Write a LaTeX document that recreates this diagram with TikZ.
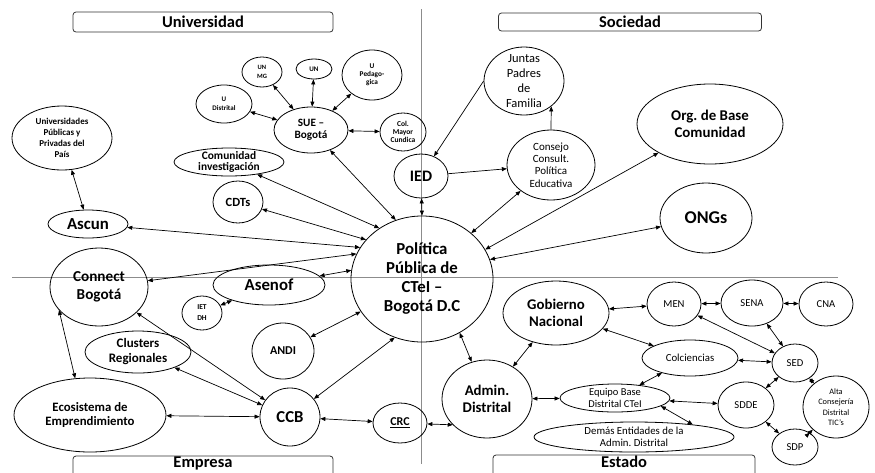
\documentclass[tikz,border=0pt]{standalone}
\usepackage{fontspec}
\setmainfont{Carlito}
\usetikzlibrary{shapes.geometric,arrows.meta}
\newcommand\fsz[2]{\fontsize{#1}{#2}\selectfont}
\begin{document}
\frenchspacing
\begin{tikzpicture}[x=1pt,y=-1pt,
 el/.style={ellipse,draw,line width=0.8pt,inner sep=0pt},
 lb/.style={align=center,inner sep=0pt},
 arr/.style={<->,line width=0.7pt,>={Triangle[length=5pt,width=4pt]}},
 arrf/.style={->,line width=0.7pt,>={Triangle[length=5pt,width=4pt]}},
 tbox/.style={draw=black!80,rounded corners=3pt,line width=0.8pt,inner sep=0pt,font=\bfseries\fsz{16.5}{18}},
 tlab/.style={inner sep=0pt,font=\bfseries\fsz{16.5}{18}},
 axisline/.style={draw=black!45,line width=1pt}]
\useasboundingbox (0,0) rectangle (875,472);
\clip (0,0) rectangle (875,472);
\draw[axisline] (421,9) -- (421,464);
\draw[axisline] (12,277) -- (838,277);
% titles
\node[tbox,minimum width=260,minimum height=20] (tu) at (203,22) {Universidad};
\node[tbox,minimum width=263,minimum height=18] (ts) at (630,22) {Sociedad};
\node[tbox,minimum width=260,minimum height=30,label={[tlab,yshift=8pt]center:Empresa}] (te) at (203,471) {};
\node[tbox,minimum width=262,minimum height=30,label={[tlab,yshift=8pt]center:Estado}] (tes) at (624,470) {};
% Universidad
\node[el,minimum width=100,minimum height=64,label={[lb,font=\bfseries\fsz{9}{11}]center:Universidades\\Públicas y\\Privadas del\\País}] (upp) at (62,138) {};
\node[el,minimum width=80,minimum height=28,label={[lb,font=\bfseries\fsz{16.8}{18}]center:Ascun}] (asc) at (88,224) {};
\node[el,minimum width=40,minimum height=30,label={[lb,font=\bfseries\fsz{6.5}{8.3}]center:UN\\MG}] (unmg) at (262,72) {};
\node[el,minimum width=56,minimum height=38,label={[lb,font=\bfseries\fsz{7}{9.3}]center:U\\Distrital}] (ud) at (224,104) {};
\node[el,minimum width=36,minimum height=20,label={[lb,font=\bfseries\fsz{7}{8}]center:UN}] (un) at (314,69) {};
\node[el,minimum width=60,minimum height=50,label={[lb,font=\bfseries\fsz{7.3}{8}]center:U\\Pedago-\\gica}] (upe) at (372,75) {};
\node[el,minimum width=74,minimum height=46,label={[lb,font=\bfseries\fsz{11.2}{11.7}]center:SUE –\\Bogotá}] (sue) at (311,130) {};
\node[el,minimum width=46,minimum height=38,label={[lb,font=\bfseries\fsz{7.5}{8.3}]center:Col.\\Mayor\\Cundica}] (col) at (403,132) {};
\node[el,minimum width=110,minimum height=28,label={[lb,font=\bfseries\fsz{11.4}{11.8}]center:Comunidad\\investigación}] (ci) at (229,162) {};
\node[el,minimum width=50,minimum height=42,label={[lb,font=\bfseries\fsz{12.5}{14}]center:CDTs}] (cdt) at (238,202) {};
% Sociedad
\node[el,minimum width=54,minimum height=44,label={[lb,font=\bfseries\fsz{16}{18}]center:IED}] (ied) at (421,176) {};
\node[el,minimum width=80,minimum height=68,label={[lb,font=\fsz{12.5}{14.7}]center:Juntas\\Padres\\de\\Familia}] (jun) at (524,81) {};
\node[el,minimum width=88,minimum height=70,label={[lb,font=\fsz{11}{12.4}]center:Consejo\\Consult.\\Política\\Educativa}] (cons) at (551,165) {};
\node[el,minimum width=146,minimum height=80,label={[lb,font=\bfseries\fsz{14.9}{16.7}]center:Org. de Base\\Comunidad}] (org) at (710,124) {};
\node[el,minimum width=92,minimum height=70,label={[lb,font=\bfseries\fsz{18}{20}]center:ONGs}] (ong) at (706,218) {};
% centre
\node[el,minimum width=142,minimum height=126,label={[lb,font=\bfseries\fsz{16.8}{19}]center:Política\\Pública de\\CTeI –\\Bogotá D.C}] (pol) at (422,279) {};
% Empresa
\node[el,minimum width=98,minimum height=78,label={[lb,font=\bfseries\fsz{15.2}{17.7}]center:Connect\\Bogotá}] (con) at (99,287) {};
\node[el,minimum width=112,minimum height=40,label={[lb,font=\bfseries\fsz{16.8}{18}]center:Asenof}] (ase) at (269,285) {};
\node[el,minimum width=40,minimum height=34,label={[lb,font=\bfseries\fsz{7.5}{11}]center:IET\\DH}] (iet) at (202,313) {};
\node[el,minimum width=62,minimum height=56,label={[lb,font=\bfseries\fsz{12}{14}]center:ANDI}] (andi) at (283,351) {};
\node[el,minimum width=106,minimum height=42,label={[lb,font=\bfseries\fsz{13}{15}]center:Clusters\\Regionales}] (clu) at (138,352) {};
\node[el,minimum width=152,minimum height=74,label={[lb,font=\bfseries\fsz{12.8}{14.3}]center:Ecosistema de\\Emprendimiento}] (eco) at (90,415) {};
\node[el,minimum width=60,minimum height=58,label={[lb,font=\bfseries\fsz{16.7}{18}]center:CCB}] (ccb) at (290,417) {};
\node[el,minimum width=54,minimum height=40,label={[lb,font=\bfseries\fsz{12}{14}]center:\underline{CRC}}] (crc) at (400,423) {};
% Estado
\node[el,minimum width=90,minimum height=78,label={[lb,font=\bfseries\fsz{14.8}{16.5}]center:Admin.\\Distrital}] (adm) at (487,399) {};
\node[el,minimum width=106,minimum height=64,label={[lb,font=\bfseries\fsz{14.8}{16.7}]center:Gobierno\\Nacional}] (gob) at (556,313) {};
\node[el,minimum width=54,minimum height=44,label={[lb,font=\fsz{10.6}{12}]center:MEN}] (men) at (674,304) {};
\node[el,minimum width=62,minimum height=46,label={[lb,font=\fsz{10.6}{12}]center:SENA}] (sena) at (752,303) {};
\node[el,minimum width=54,minimum height=44,label={[lb,font=\fsz{10.6}{12}]center:CNA}] (cna) at (826,304) {};
\node[el,minimum width=96,minimum height=36,label={[lb,font=\fsz{10.8}{12}]center:Colciencias}] (colc) at (690,358) {};
\node[el,minimum width=46,minimum height=38,label={[lb,font=\fsz{10.6}{12}]center:SED}] (sed) at (795,363) {};
\node[el,minimum width=110,minimum height=28,label={[lb,font=\fsz{10.5}{11.7}]center:Equipo Base\\Distrital CTeI}] (eq) at (615,398) {};
\node[el,minimum width=56,minimum height=46,label={[lb,font=\fsz{10.6}{12}]center:SDDE}] (sdde) at (746,405) {};
\node[el,minimum width=66,minimum height=62,label={[lb,font=\fsz{8.3}{10.3}]center:Alta\\Consejería\\Distrital\\TIC’s}] (alta) at (836,407) {};
\node[el,minimum width=46,minimum height=36,label={[lb,font=\fsz{10.6}{12}]center:SDP}] (sdp) at (795,447) {};
\node[el,minimum width=200,minimum height=30,label={[lb,font=\fsz{10.8}{11.7}]center:Demás Entidades de la\\Admin. Distrital}] (dem) at (634,437) {};
% connectors
\draw[arr] (upp) -- (asc);
\draw[arr] (unmg) -- (sue);
\draw[arr] (ud) -- (sue);
\draw[arr] (un) -- (sue);
\draw[arr] (upe) -- (sue);
\draw[arr] (sue) -- (col);
\draw[arr] (sue) -- (pol.114);
\draw[arr] (ci) -- (pol.130);
\draw[arr] (cdt) -- (pol.145);
\draw[arr] (asc) -- (pol.153);
\draw[arr] (con) -- (pol.159);
\draw[arr] (ase) -- (pol.173);
\draw[arr] (iet) -- (ase);
\draw[arr] (andi) -- (pol.208);
\draw[arr] (con.210) -- (eco.112);
\draw[arr] (con) -- (ccb);
\draw[arr] (clu) -- (ccb);
\draw[arr] (eco) -- (ccb);
\draw[arr] (ccb) -- (pol.245);
\draw[arr] (ccb) -- (crc);
\draw[arr] (crc) -- (adm.217);
\draw[arr] (adm) -- (pol.305);
\draw[arr] (adm) -- (gob);
\draw[arr] (adm) -- (eq);
\draw[arr] (ied) -- (pol.90);
\draw[arrf] (jun.west) -- (ied);
\draw[arrf] (ied) -- (cons);
\draw[arrf] (cons.north) -- (jun.-43);
\draw[arr] (cons) -- (pol.43);
\draw[arr] (pol.25) -- (org);
\draw[arr] (pol.16) -- (ong);
\draw[arr] (gob) -- (men);
\draw[arr] (men) -- (sena);
\draw[arr] (sena) -- (cna);
\draw[arr] (men) -- (sed);
\draw[arr] (sena) -- (sed);
\draw[arr] (gob) -- (colc);
\draw[arr] (colc) -- (sed);
\draw[arr] (colc) -- (eq);
\draw[arr] (eq) -- (sdde);
\draw[arr] (eq.350) -- (dem.12);
\draw[arr] (sed) -- (sdde);
\draw[arr] (sed) -- (alta);
\draw[arr] (sdde) -- (sdp);
\draw[arr] (sdp) -- (alta);
\end{tikzpicture}
\end{document}
